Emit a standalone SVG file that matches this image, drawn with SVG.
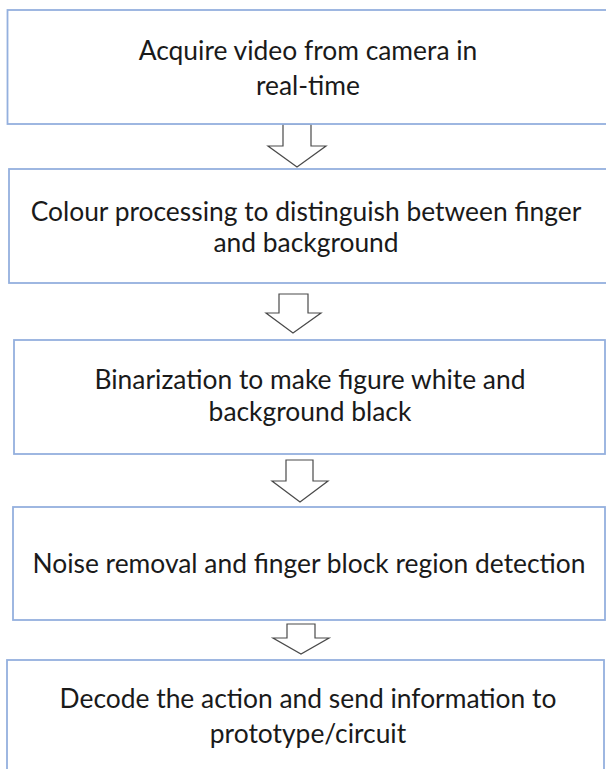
<svg xmlns="http://www.w3.org/2000/svg" width="606" height="769" viewBox="0 0 606 769">
<style>
.box{fill:#ffffff;stroke:#94b0de;stroke-width:1.8}
.arrow{fill:#ffffff;stroke:#4a4a4a;stroke-width:1.2;stroke-linejoin:miter}
.t{font-family:Lato,"Open Sans","Liberation Sans",sans-serif;font-size:26.4px;fill:#1a1a1a;text-anchor:middle}
</style>
<rect width="606" height="769" fill="#ffffff"/>
<g id="connectors">
<polygon class="arrow" points="283,124 311,124 311,146 326,146 297,167 268,146 283,146"/>
<polygon class="arrow" points="279,294 308,294 308,313 321,313 293,333 266,313 279,313"/>
<polygon class="arrow" points="286,460 313,460 313,481 328,481 300,502 272,481 286,481"/>
<polygon class="arrow" points="287,624 315,624 315,638 329,638 301,654 273,638 287,638"/>
</g>
<g id="node1">
<rect class="box" x="7.5" y="10" width="610" height="114"/>
<text class="t" x="308" y="60">Acquire video from camera in</text>
<text class="t" x="308" y="95">real-time</text>
</g>
<g id="node2">
<rect class="box" x="9" y="169" width="610" height="114"/>
<text class="t" x="306" y="221">Colour processing to distinguish between finger</text>
<text class="t" x="306" y="252">and background</text>
</g>
<g id="node3">
<rect class="box" x="14" y="340" width="591" height="114"/>
<text class="t" x="310" y="389">Binarization to make figure white and</text>
<text class="t" x="310" y="421">background black</text>
</g>
<g id="node4">
<rect class="box" x="13" y="507" width="592" height="113"/>
<text class="t" x="309" y="573">Noise removal and finger block region detection</text>
</g>
<g id="node5">
<rect class="box" x="7" y="660" width="597" height="130"/>
<text class="t" x="308" y="708">Decode the action and send information to</text>
<text class="t" x="308" y="743">prototype/circuit</text>
</g>
</svg>
